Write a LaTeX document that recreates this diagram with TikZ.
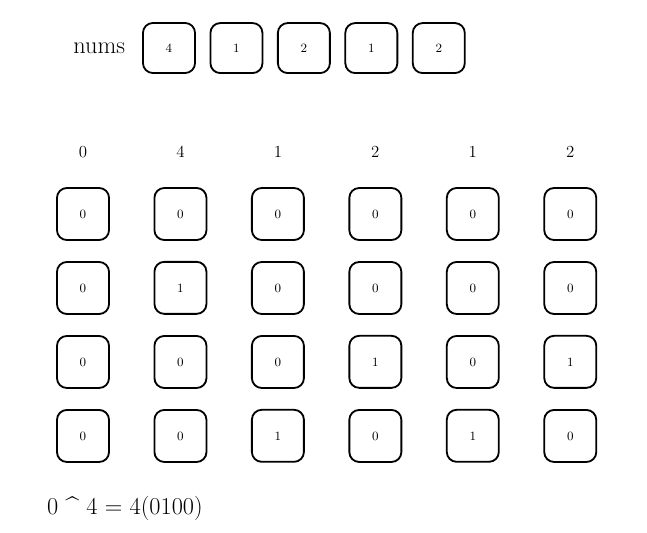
\documentclass[tikz,border=0pt]{standalone}
\usepackage{tikz}
\usetikzlibrary{matrix,positioning}

\tikzset{
  cell/.style={draw, line width=1.3pt, rounded corners=7pt, minimum width=1.3cm,
    minimum height=1.3cm, inner sep=0pt, font=\small},
  hdr/.style={draw=none, font=\large, minimum height=0pt, text height=1.6ex, text depth=0pt},
}

\begin{document}
\begin{tikzpicture}[x=0.025cm, y=-0.025cm]
  \useasboundingbox (0,0) rectangle (647,533);
  % the input array
  \matrix (t) [matrix of nodes, nodes={cell, minimum height=1.25cm}, column sep=0.34cm,
    matrix anchor=t-1-1.center] at (169,48)
  {
    4 & 1 & 2 & 1 & 2 \\
  };
  \node[font=\LARGE, left=0.3cm of t-1-1] (nums) {nums};

  % bit counts for every prefix
  \matrix (m) [matrix of nodes, nodes=cell, column sep=1.09cm, row sep=0.5cm,
    matrix anchor=m-2-1.center] at (83,214)
  {
|[hdr]| 0 & |[hdr]| 4 & |[hdr]| 1 & |[hdr]| 2 & |[hdr]| 1 & |[hdr]| 2 \\[0.25cm]
0 & 0 & 0 & 0 & 0 & 0 \\
0 & 1 & 0 & 0 & 0 & 0 \\
0 & 0 & 0 & 1 & 0 & 1 \\
0 & 0 & 1 & 0 & 1 & 0 \\
};

  \node[font=\LARGE, anchor=north west] (xor)
    at ([xshift=-0.35cm, yshift=-0.7cm]m-5-1.south west) {0 \textasciicircum{} 4 = 4(0100)};
\end{tikzpicture}
\end{document}
